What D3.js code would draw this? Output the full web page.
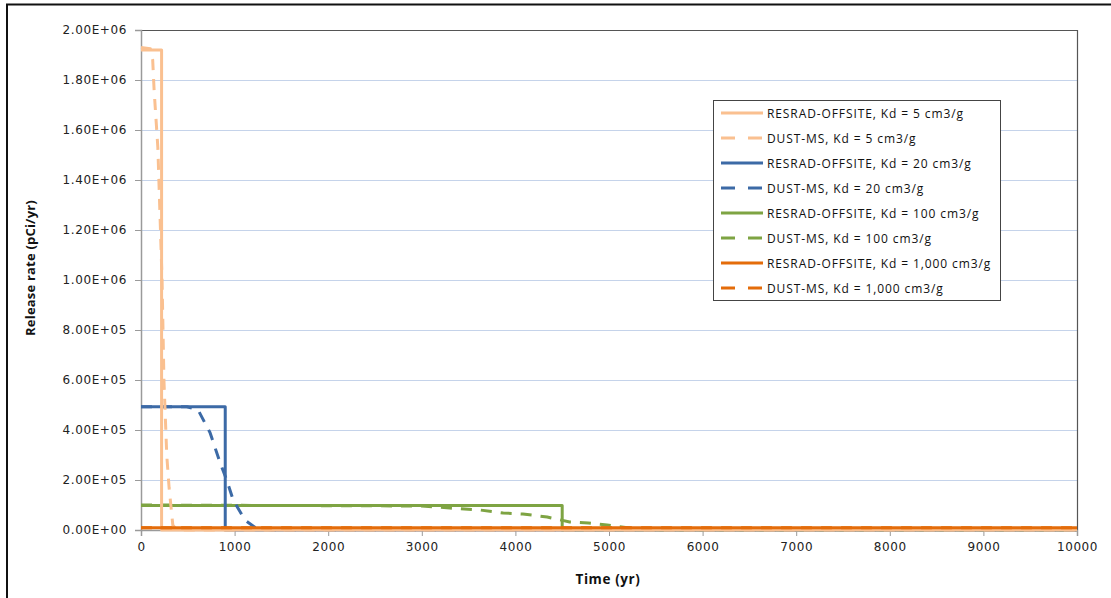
<!DOCTYPE html>
<html>
<head>
<meta charset="utf-8">
<script src="https://cdn.jsdelivr.net/npm/d3@7"></script>
<style>
  body { margin: 0; background: #fff; }
  svg { display: block; }
</style>
</head>
<body>
<svg id="chart" width="1111" height="598"></svg>
<script>
// Time axis (yr) and y ticks
const xTicks = [0, 1000, 2000, 3000, 4000, 5000, 6000, 7000, 8000, 9000, 10000];
const yTicks = [0, 2e5, 4e5, 6e5, 8e5, 1e6, 1.2e6, 1.4e6, 1.6e6, 1.8e6, 2e6];

// Series as [time, release rate]
const resrad5 = [[0, 1.92e6], [220, 1.92e6], [220, 0], [10000, 0]];
const dust5 = [[0, 1.93e6], [100, 1.925e6], [125, 1.88e6], [140, 1.76e6], [180, 1.53e6],
  [225, 1.0e6], [245, 6.0e5], [275, 3.0e5], [300, 1.7e5], [340, 2e4], [380, 0], [10000, 0]];
const resrad20 = [[0, 4.93e5], [900, 4.93e5], [900, 0], [10000, 0]];
const dust20 = [[0, 4.93e5], [490, 4.93e5], [610, 4.8e5], [737, 3.9e5], [844, 2.7e5],
  [915, 2.0e5], [985, 1.2e5], [1110, 4e4], [1220, 1e4], [1400, 0], [10000, 0]];
const resrad100 = [[0, 9.8e4], [4500, 9.8e4], [4500, 0], [10000, 0]];
const dust100 = [[0, 1.0e5], [3000, 9.6e4], [3300, 8.8e4], [3620, 8.0e4], [3870, 6.8e4],
  [4080, 6.4e4], [4340, 5.2e4], [4580, 3.2e4], [4780, 2.8e4], [4980, 2.0e4],
  [5220, 8e3], [5500, 0], [10000, 0]];
const resrad1000 = [[0, 9e3], [10000, 9e3]];
const dust1000 = [[0, 9e3], [10000, 9e3]];

const seriesNames = [
  'RESRAD-OFFSITE, Kd = 5 cm3/g',
  'DUST-MS, Kd = 5 cm3/g',
  'RESRAD-OFFSITE, Kd = 20 cm3/g',
  'DUST-MS, Kd = 20 cm3/g',
  'RESRAD-OFFSITE, Kd = 100 cm3/g',
  'DUST-MS, Kd = 100 cm3/g',
  'RESRAD-OFFSITE, Kd = 1,000 cm3/g',
  'DUST-MS, Kd = 1,000 cm3/g'
];
const seriesData = [resrad5, dust5, resrad20, dust20, resrad100, dust100, resrad1000, dust1000];
const seriesColors = ['#fac090', '#fac090', '#3c6aa6', '#3c6aa6', '#7ea443', '#7ea443', '#e46c0a', '#e46c0a'];
const seriesDashed = [false, true, false, true, false, true, false, true];

const svg = d3.select('#chart');
const margin = { left: 141, right: 1077, top: 30, bottom: 530 };

// Outer chart border
svg.append('rect')
  .attr('x', 7).attr('y', 4.5)
  .attr('width', 1120).attr('height', 620)
  .attr('fill', 'none')
  .attr('stroke', '#111')
  .attr('stroke-width', 2);

const x = d3.scaleLinear().domain([0, 10000]).range([margin.left, margin.right]);
const y = d3.scaleLinear().domain([0, 2e6]).range([margin.bottom, margin.top]);

// Horizontal gridlines
svg.append('g')
  .selectAll('line')
  .data(yTicks.slice(1))
  .join('line')
  .attr('x1', margin.left).attr('x2', margin.right)
  .attr('y1', d => y(d) + 0.5).attr('y2', d => y(d) + 0.5)
  .attr('stroke', '#c5d3ea')
  .attr('stroke-width', 1);

// Plot frame (top and right)
svg.append('path')
  .attr('d', `M${margin.left},${margin.top + 0.5}H${margin.right + 0.5}V${margin.bottom}`)
  .attr('fill', 'none')
  .attr('stroke', '#555')
  .attr('stroke-width', 1.2);

const tickFont = '"DejaVu Sans", Verdana, sans-serif';

// Y axis
const yAxis = svg.append('g')
  .attr('transform', `translate(${margin.left},0)`)
  .call(d3.axisLeft(y).tickValues(yTicks).tickSize(6).tickPadding(8)
    .tickFormat(d => d3.format('.2e')(d).replace('e', 'E').replace(/E([+-])(\d)$/, 'E$10$2').toUpperCase()));
yAxis.select('.domain').attr('stroke', '#9a9a9a').attr('stroke-width', 1.5);
yAxis.selectAll('.tick line').attr('stroke', '#9a9a9a');
yAxis.selectAll('text')
  .attr('font-family', tickFont)
  .attr('font-size', 12)
  .attr('letter-spacing', 0.6)
  .attr('fill', '#222');

// X axis
const xAxis = svg.append('g')
  .attr('transform', `translate(0,${margin.bottom})`)
  .call(d3.axisBottom(x).tickValues(xTicks).tickSize(6).tickPadding(6).tickFormat(d3.format('d')));
xAxis.select('.domain').attr('stroke', '#9a9a9a').attr('stroke-width', 1.5);
xAxis.selectAll('.tick line').attr('stroke', '#9a9a9a');
xAxis.selectAll('text')
  .attr('font-family', tickFont)
  .attr('font-size', 12)
  .attr('letter-spacing', 0.6)
  .attr('fill', '#222');

// Axis titles
svg.append('text')
  .attr('x', x(5000) - 1).attr('y', 584)
  .attr('text-anchor', 'middle')
  .attr('font-family', '"Open Sans", sans-serif')
  .attr('font-weight', 'bold')
  .attr('font-size', 13.5)
  .attr('letter-spacing', 0.6)
  .attr('fill', '#111')
  .text('Time (yr)');

svg.append('text')
  .attr('transform', `translate(35,${(margin.top + margin.bottom) / 2 - 12}) rotate(-90)`)
  .attr('text-anchor', 'middle')
  .attr('font-family', '"Open Sans", sans-serif')
  .attr('font-weight', 'bold')
  .attr('font-size', 13)
  .attr('letter-spacing', 0.2)
  .attr('fill', '#111')
  .text('Release rate (pCi/yr)');

// Lines, drawn so the darker orange sits on top as in the picture
const line = d3.line().x(d => x(d[0])).y(d => y(d[1]));
const drawOrder = [4, 5, 2, 3, 0, 1, 6, 7];
const lineGroup = svg.append('g');
drawOrder.forEach(i => {
  lineGroup.append('path')
    .datum(seriesData[i])
    .attr('d', line)
    .attr('fill', 'none')
    .attr('stroke', seriesColors[i])
    .attr('stroke-width', 3)
    .attr('stroke-linejoin', 'round')
    .attr('stroke-dasharray', seriesDashed[i] ? '11,9' : null);
});

// Legend
const legend = svg.append('g').attr('transform', 'translate(713,100)');
legend.append('rect')
  .attr('x', 0.5).attr('y', 0.5)
  .attr('width', 287).attr('height', 200)
  .attr('fill', '#fff')
  .attr('stroke', '#444')
  .attr('stroke-width', 1);

const legendRow = legend.selectAll('g.row')
  .data(seriesNames)
  .join('g')
  .attr('class', 'row')
  .attr('transform', (d, i) => `translate(0,${13 + i * 25})`);

legendRow.append('line')
  .attr('x1', 8).attr('x2', 50)
  .attr('y1', 0).attr('y2', 0)
  .attr('stroke', (d, i) => seriesColors[i])
  .attr('stroke-width', 3)
  .attr('stroke-dasharray', (d, i) => seriesDashed[i] ? '14,13' : null);

legendRow.append('text')
  .attr('x', 54).attr('y', 4.5)
  .attr('font-family', '"Open Sans", sans-serif')
  .attr('font-size', 12)
  .attr('letter-spacing', 0.9)
  .attr('fill', '#111')
  .text(d => d);
</script>
</body>
</html>
